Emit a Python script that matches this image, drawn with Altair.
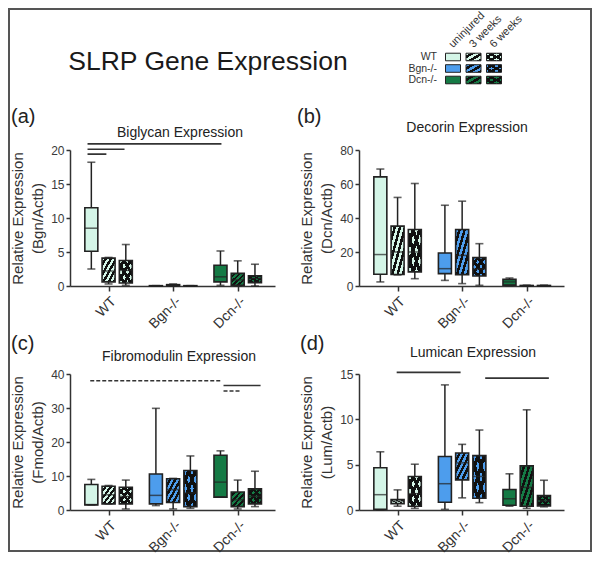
import altair as alt
import pandas as pd

FONT = "Liberation Sans"
INK = "#222222"
LABEL = "#3a3a3a"

main_title = "SLRP Gene Expression"
geno_names = ["WT", "Bgn-/-", "Dcn-/-"]
time_names = ["uninjured", "3 weeks", "6 weeks"]
geno_colors = ["#d4f5e7", "#4d9ded", "#157a45"]

# box order: WT (uninjured, 3 weeks, 6 weeks), Bgn-/- (...), Dcn-/- (...)
# (a) Biglycan
bgn_lo = [2.5, 0.3, 0.1, 0.0, 0.0, 0.0, 0.1, 0.0, 0.0]
bgn_q1 = [5.1, 0.6, 0.45, 0.0, 0.05, 0.0, 0.6, 0.1, 0.5]
bgn_med = [8.5, 2.2, 2.3, 0.02, 0.1, 0.02, 1.35, 0.9, 1.1]
bgn_q3 = [11.5, 4.1, 3.75, 0.05, 0.2, 0.05, 3.05, 1.85, 1.5]
bgn_hi = [18.2, 4.2, 6.1, 0.05, 0.3, 0.05, 5.15, 3.7, 3.2]
# (b) Decorin
dcn_lo = [2.4, 6.5, 4.3, 3.3, 1.4, 0.4, 0.2, 0.0, 0.0]
dcn_q1 = [6.9, 6.8, 8.3, 7.3, 6.7, 5.9, 0.5, 0.1, 0.1]
dcn_med = [18.5, 20.0, 20.0, 10.2, 18.0, 10.0, 2.4, 0.2, 0.2]
dcn_q3 = [64.2, 35.2, 33.2, 19.4, 33.2, 16.7, 3.9, 0.3, 0.3]
dcn_hi = [68.8, 52.1, 60.3, 47.5, 49.9, 24.9, 4.7, 0.5, 0.5]
# (c) Fibromodulin
fmod_lo = [1.5, 1.8, 0.3, 1.3, 0.3, 0.5, 3.8, 0.3, 1.0]
fmod_q1 = [1.5, 1.8, 1.8, 1.8, 2.2, 1.0, 3.8, 1.0, 1.8]
fmod_med = [1.6, 4.5, 4.0, 4.3, 6.0, 5.0, 8.2, 3.0, 4.0]
fmod_q3 = [7.5, 7.0, 6.7, 10.6, 9.2, 11.6, 16.1, 5.3, 6.2]
fmod_hi = [9.0, 7.2, 8.8, 29.9, 9.3, 15.9, 17.4, 8.8, 11.4]
# (d) Lumican
lum_lo = [0.0, 0.42, 0.18, 0.07, 1.34, 0.81, 0.42, 0.18, 0.35]
lum_q1 = [0.07, 0.7, 0.42, 0.85, 3.32, 1.3, 0.53, 0.42, 0.46]
lum_med = [1.69, 0.99, 1.8, 2.9, 5.2, 3.7, 1.24, 2.5, 1.0]
lum_q3 = [4.66, 1.16, 3.7, 5.9, 6.28, 6.0, 2.26, 4.87, 1.59]
lum_hi = [6.42, 2.22, 5.05, 13.8, 7.24, 8.82, 3.99, 11.05, 3.28]

# significance bars: start / end (group units), level, style
bgn_sig_x1 = [-0.326, -0.326, -0.326]
bgn_sig_x2 = [1.748, 0.247, -0.034]
bgn_sig_y = [20.9, 20.1, 19.4]
bgn_sig_style = ["solid", "solid", "solid"]
fmod_sig_x1 = [-0.284, 1.78, 1.78]
fmod_sig_x2 = [1.757, 2.354, 2.045]
fmod_sig_y = [38.0, 36.6, 35.0]
fmod_sig_style = ["dashed", "solid", "dashed"]
lum_sig_x1 = [-0.014, 1.357]
lum_sig_x2 = [0.976, 2.343]
lum_sig_y = [15.18, 14.54]
lum_sig_style = ["solid", "solid"]

OFF = 0.267
BW = 13
W, H = 205, 136


def stripes(n, up=True, dark="#101010"):
    clear = "rgba(0,0,0,0)"
    stops = []
    for k in range(n):
        a, b, c = k / n, (k + 0.5) / n, (k + 1) / n
        stops += [alt.GradientStop(color=clear, offset=a), alt.GradientStop(color=clear, offset=b),
                  alt.GradientStop(color=dark, offset=b), alt.GradientStop(color=dark, offset=c)]
    if up:
        return alt.LinearGradient(gradient="linear", stops=stops, x1=0, y1=0, x2=1, y2=1)
    return alt.LinearGradient(gradient="linear", stops=stops, x1=0, y1=1, x2=1, y2=0)


def boxes_df(lo, q1, med, q3, hi):
    return pd.DataFrame({
        "geno": [g for g in geno_names for _ in time_names],
        "time": [t for _ in geno_names for t in time_names],
        "gi": [i for i in range(3) for _ in range(3)],
        "ti": [j for _ in range(3) for j in range(3)],
        "lo": lo, "q1": q1, "med": med, "q3": q3, "hi": hi})


def sig_df(x1, x2, y, style):
    return pd.DataFrame({"x1": x1, "x2": x2, "lvl": y, "style": style})


fill_scale = alt.Scale(domain=geno_names, range=geno_colors)


def panel(df, sig, letter, title, unit, ymax, yticks, tx, ty, lx, ly):
    xs = alt.Scale(domain=[-0.52, 2.5], nice=False, zero=False)
    ys = alt.Scale(domain=[0, ymax], nice=False)
    xax = alt.Axis(values=[0, 1, 2], title=None, grid=False, labelAngle=-45,
                   labelExpr="datum.value == 0 ? 'WT' : datum.value == 1 ? 'Bgn-/-' : 'Dcn-/-'",
                   labelOverlap=False, labelFont=FONT, labelFontSize=14, labelColor="#333",
                   domainColor="#333", tickColor="#333", domainWidth=1.5, tickWidth=1.5,
                   tickSize=5, labelPadding=3)
    yax = alt.Axis(values=yticks, title=["Relative Expression", unit], grid=False,
                   labelFont=FONT, labelFontSize=12, labelColor=LABEL, labelPadding=2,
                   domainColor="#333", tickColor="#333", domainWidth=1.5, tickWidth=1.5,
                   tickSize=4, titleFont=FONT, titleFontSize=15, titleFontWeight="normal",
                   titleColor="#333", titlePadding=5, titleLineHeight=20)
    X = alt.X("pos:Q", scale=xs, axis=xax)

    def Y(f):
        return alt.Y(f + ":Q", scale=ys, axis=yax)

    base = alt.Chart(df).transform_calculate(pos=f"datum.gi + (datum.ti - 1) * {OFF}")
    whisk = base.mark_rule(color=INK, strokeWidth=1.5).encode(x=X, y=Y("lo"), y2="hi:Q")
    box = base.mark_bar(size=BW, strokeWidth=0).encode(
        x=X, y=Y("q1"), y2="q3:Q", fill=alt.Fill("geno:N", scale=fill_scale, legend=None))
    s3 = base.transform_filter("datum.ti == 1").mark_bar(size=BW, fill=stripes(5, True), strokeWidth=0).encode(
        x=X, y=Y("q1"), y2="q3:Q")
    s6a = base.transform_filter("datum.ti == 2").mark_bar(size=BW, fill=stripes(4, True), strokeWidth=0).encode(
        x=X, y=Y("q1"), y2="q3:Q")
    s6b = base.transform_filter("datum.ti == 2").mark_bar(size=BW, fill=stripes(4, False), strokeWidth=0).encode(
        x=X, y=Y("q1"), y2="q3:Q")
    outline = base.mark_bar(size=BW, fillOpacity=0, stroke=INK, strokeWidth=1.6).encode(
        x=X, y=Y("q1"), y2="q3:Q")
    medt = base.mark_tick(orient="horizontal", size=BW, thickness=1.5, color=INK).encode(x=X, y=Y("med"))
    caph = base.mark_tick(orient="horizontal", size=8, thickness=1.6, color=INK).encode(x=X, y=Y("hi"))
    capl = base.mark_tick(orient="horizontal", size=8, thickness=1.6, color=INK).encode(x=X, y=Y("lo"))
    layers = [whisk, box, s3, s6a, s6b, outline, medt, caph, capl]
    if sig is not None:
        layers.append(alt.Chart(sig).mark_rule(color="#333", strokeWidth=1.6).encode(
            x=alt.X("x1:Q", scale=xs, axis=xax), x2="x2:Q", y=Y("lvl"),
            strokeDash=alt.StrokeDash("style:N", scale=alt.Scale(domain=["solid", "dashed"], range=[[1, 0], [4, 2]]),
                                      legend=None)))
    layers.append(alt.Chart(pd.DataFrame({"t": [letter]})).mark_text(
        font=FONT, fontSize=20, color="#222", align="left", baseline="middle").encode(
        x=alt.value(lx), y=alt.value(ly), text="t:N"))
    layers.append(alt.Chart(pd.DataFrame({"t": [title]})).mark_text(
        font=FONT, fontSize=14, color="#222", align="center", baseline="middle").encode(
        x=alt.value(tx), y=alt.value(ty), text="t:N"))
    return alt.layer(*layers).properties(width=W, height=H)


pa = panel(boxes_df(bgn_lo, bgn_q1, bgn_med, bgn_q3, bgn_hi),
           sig_df(bgn_sig_x1, bgn_sig_x2, bgn_sig_y, bgn_sig_style),
           "(a)", "Biglycan Expression", "(Bgn/Actb)", 20, [0, 5, 10, 15, 20], 110, -17, -59, -33)
pb = panel(boxes_df(dcn_lo, dcn_q1, dcn_med, dcn_q3, dcn_hi), None,
           "(b)", "Decorin Expression", "(Dcn/Actb)", 80, [0, 20, 40, 60, 80], 108, -22, -62, -33)
pc = panel(boxes_df(fmod_lo, fmod_q1, fmod_med, fmod_q3, fmod_hi),
           sig_df(fmod_sig_x1, fmod_sig_x2, fmod_sig_y, fmod_sig_style),
           "(c)", "Fibromodulin Expression", "(Fmod/Actb)", 40, [0, 10, 20, 30, 40], 109, -17, -59, -30)
pd_ = panel(boxes_df(lum_lo, lum_q1, lum_med, lum_q3, lum_hi),
            sig_df(lum_sig_x1, lum_sig_x2, lum_sig_y, lum_sig_style),
            "(d)", "Lumican Expression", "(Lum/Actb)", 15, [0, 5, 10, 15], 114, -21, -59, -30)

# header: frame + main title
head = alt.layer(
    alt.Chart(pd.DataFrame({"t": [""]})).mark_rect(fillOpacity=0, stroke="#555", strokeWidth=2).encode(
        x=alt.value(-61), x2=alt.value(521), y=alt.value(1), y2=alt.value(543)),
    alt.Chart(pd.DataFrame({"t": [main_title]})).mark_text(
        font=FONT, fontSize=26.5, color="#1a1a1a", align="center", baseline="middle").encode(
        x=alt.value(138), y=alt.value(54), text="t:N"),
).properties(width=W, height=54)

# legend grid
leg_df = boxes_df([0] * 9, [0] * 9, [0] * 9, [0] * 9, [0] * 9)
lx = alt.Scale(domain=[0, 2], range=[89, 140])
ly = alt.Scale(domain=[0, 2], range=[49, 72])
LX = alt.X("ti:Q", scale=lx, axis=None)
LY = alt.Y("ya:Q", scale=ly, axis=None)
lbase = alt.Chart(leg_df).transform_calculate(ya="datum.gi - 0.33", yb="datum.gi + 0.33")
legend = alt.layer(
    lbase.mark_bar(size=15, strokeWidth=0).encode(x=LX, y=LY, y2="yb:Q",
                                                   fill=alt.Fill("geno:N", scale=fill_scale, legend=None)),
    lbase.transform_filter("datum.ti == 1").mark_bar(size=15, fill=stripes(3, True), strokeWidth=0).encode(
        x=LX, y=LY, y2="yb:Q"),
    lbase.transform_filter("datum.ti == 2").mark_bar(size=15, fill=stripes(3, True), strokeWidth=0).encode(
        x=LX, y=LY, y2="yb:Q"),
    lbase.transform_filter("datum.ti == 2").mark_bar(size=15, fill=stripes(3, False), strokeWidth=0).encode(
        x=LX, y=LY, y2="yb:Q"),
    lbase.mark_bar(size=15, fillOpacity=0, stroke=INK, strokeWidth=1).encode(x=LX, y=LY, y2="yb:Q"),
    alt.Chart(pd.DataFrame({"gi": [0, 1, 2], "g": geno_names})).mark_text(
        font=FONT, fontSize=10.5, color="#333", align="right", baseline="middle").encode(
        x=alt.value(78), y=alt.Y("gi:Q", scale=ly, axis=None), text="g:N"),
    alt.Chart(pd.DataFrame({"ti": [0, 1, 2], "t": time_names})).mark_text(
        font=FONT, fontSize=11, color="#333", align="left", baseline="middle", angle=315, dx=-3).encode(
        x=alt.X("ti:Q", scale=lx, axis=None), y=alt.value(36), text="t:N"),
).properties(width=W, height=54)

chart = alt.concat(head, legend, pa, pb, pc, pd_, columns=2,
                   spacing={"row": 88, "column": 84}, bounds="flush", align="each").properties(
    padding=0, background="white").configure_view(strokeWidth=0)

chart.save("out.html", embed_options={"renderer": "svg", "actions": False})
